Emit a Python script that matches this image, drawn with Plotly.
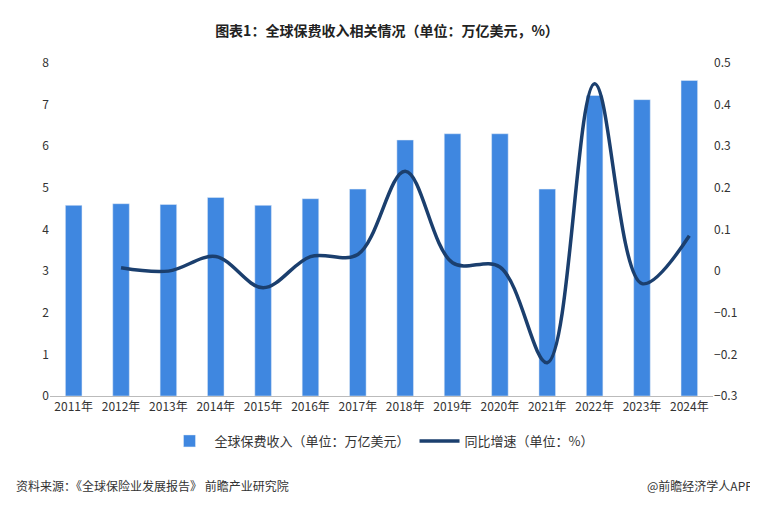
import plotly.graph_objects as go

years = ["2011年", "2012年", "2013年", "2014年", "2015年", "2016年", "2017年",
         "2018年", "2019年", "2020年", "2021年", "2022年", "2023年", "2024年"]
premium = [4.58, 4.62, 4.60, 4.77, 4.58, 4.74, 4.97, 6.15, 6.30, 6.30, 4.97, 7.22, 7.12, 7.58]
growth_years = years[1:]
growth = [0.008, 0.0, 0.035, -0.04, 0.035, 0.04, 0.24, 0.02, 0.01, -0.22, 0.45, -0.03, 0.085]

font = "Noto Sans CJK SC"
fig = go.Figure()
fig.add_trace(go.Bar(x=years, y=premium, name="全球保费收入（单位：万亿美元）",
                     marker_color="#3f87e0", width=0.35))
fig.add_trace(go.Scatter(x=growth_years, y=growth, name="同比增速（单位：%）", yaxis="y2",
                         mode="lines", line=dict(color="#1b3f6e", width=3.5, shape="spline", smoothing=1.0)))

fig.update_layout(
    width=758, height=516, plot_bgcolor="white", paper_bgcolor="white",
    font=dict(family=font, size=12, color="#333"),
    title=dict(text="<b>图表1：全球保费收入相关情况（单位：万亿美元，%）</b>", x=0.5, y=0.965,
               xanchor="center", font=dict(size=14, color="#222")),
    margin=dict(l=42, r=53, t=55, b=128),
    xaxis=dict(showgrid=False, showline=True, linecolor="#bbb", tickfont=dict(size=12)),
    yaxis=dict(range=[0, 8], dtick=1, showgrid=False, zeroline=False, tickfont=dict(size=12)),
    yaxis2=dict(range=[-0.3, 0.5], dtick=0.1, overlaying="y", side="right", showgrid=False,
                zeroline=False, tickfont=dict(size=12)),
    legend=dict(orientation="h", x=0.5, xanchor="center", y=-0.09, yanchor="top",
                font=dict(size=13), itemwidth=40),
    bargap=0.5,
    annotations=[
        dict(text="资料来源：《全球保险业发展报告》 前瞻产业研究院", x=0, xref="paper", xshift=-36,
             y=-0.30, yref="paper", xanchor="left", showarrow=False, font=dict(size=12)),
        dict(text="@前瞻经济学人APP", x=1, xref="paper", xshift=42, y=-0.30, yref="paper",
             xanchor="right", showarrow=False, font=dict(size=12)),
    ],
)
fig.write_html("out.html")
